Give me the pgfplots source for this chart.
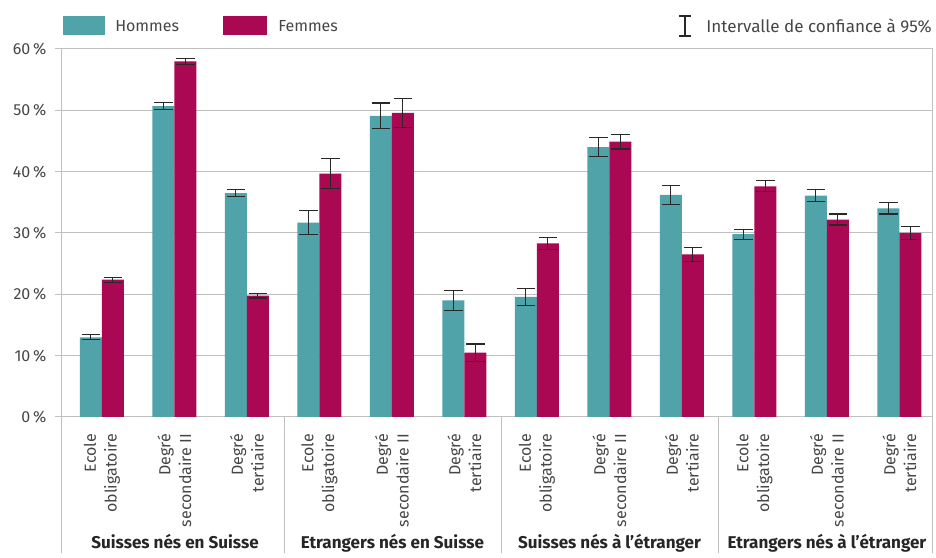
\documentclass[border=0pt]{standalone}
\usepackage{pgfplots}
\pgfplotsset{compat=1.18}
\usepackage{fontspec}
\setmainfont{Fira Sans}
\definecolor{hommes}{RGB}{80,163,168}
\definecolor{femmes}{RGB}{170,8,82}
\definecolor{gridgray}{RGB}{192,192,192}
\definecolor{txt}{RGB}{70,70,70}
\definecolor{errc}{RGB}{40,40,40}

\begin{document}
\begin{tikzpicture}[font=\fontsize{12}{14}\selectfont]
% reference pixel frame: 1 px = 0.75 pt, origin = top left of image
\begin{scope}[shift={(-46.5pt,312.75pt)},x=0.75pt,y=-0.75pt]
\useasboundingbox (0,0) rectangle (936,553);
\end{scope}

\begin{axis}[
  scale only axis, width=652.5pt, height=276pt,
  at={(0,0)}, anchor=south west,
  ybar=0pt, bar width=16.5pt,
  xmin=-0.55, xmax=11.45, ymin=0, ymax=60,
  ytick={0,10,...,60},
  yticklabel={\pgfmathprintnumber{\tick}\,\%},
  /pgf/number format/assume math mode=true,
  ytick pos=left, tick align=outside, major tick length=5.25pt,
  ytick style={gridgray, line width=0.75pt},
  xtick={0,...,11}, xtick style={draw=none},
  xticklabels={{Ecole\\obligatoire},{Degré\\secondaire II},{Degré\\tertiaire},
               {Ecole\\obligatoire},{Degré\\secondaire II},{Degré\\tertiaire},
               {Ecole\\obligatoire},{Degré\\secondaire II},{Degré\\tertiaire},
               {Ecole\\obligatoire},{Degré\\secondaire II},{Degré\\tertiaire}},
  xticklabel style={rotate=90, anchor=east, align=right, inner sep=0pt,
    outer xsep=7.5pt, text=txt, font=\fontsize{12}{15.5}\selectfont},
  yticklabel style={text=txt, xshift=-3pt},
  axis line style={gridgray, line width=0.75pt},
  ymajorgrids, grid style={gridgray, line width=0.75pt},
  error bars/y dir=both, error bars/y explicit,
  error bars/error bar style={errc, line width=0.8pt},
  error bars/error mark options={errc, line width=0.8pt, mark size=7pt, rotate=90},
  clip=false,
]
\addplot[fill=hommes, draw=none] coordinates {
  (0,13.0) +- (0,0.4)
  (1,50.7) +- (0,0.6)
  (2,36.5) +- (0,0.6)
  (3,31.7) +- (0,2.0)
  (4,49.1) +- (0,2.1)
  (5,19.0) +- (0,1.6)
  (6,19.6) +- (0,1.4)
  (7,44.0) +- (0,1.6)
  (8,36.2) +- (0,1.6)
  (9,29.8) +- (0,0.8)
  (10,36.1) +- (0,1.0)
  (11,34.0) +- (0,0.9)
};
\addplot[fill=femmes, draw=none] coordinates {
  (0,22.4) +- (0,0.4)
  (1,58.0) +- (0,0.5)
  (2,19.8) +- (0,0.4)
  (3,39.7) +- (0,2.4)
  (4,49.6) +- (0,2.4)
  (5,10.5) +- (0,1.4)
  (6,28.3) +- (0,1.0)
  (7,44.9) +- (0,1.2)
  (8,26.5) +- (0,1.1)
  (9,37.6) +- (0,0.9)
  (10,32.2) +- (0,0.9)
  (11,30.0) +- (0,1.0)
};
\end{axis}

\begin{scope}[shift={(-46.5pt,312.75pt)},x=0.75pt,y=-0.75pt]
  % group separators below the axis
  \foreach \sx in {62,284,501,718,932}
    \draw[gridgray, line width=0.75pt] (\sx,417) -- (\sx,553);
  % group names
  \foreach \cx/\name in {175/Suisses nés en Suisse,392.5/Etrangers nés en Suisse,
                         609.5/Suisses nés à l'étranger,827/Etrangers nés à l'étranger}
    \node[font=\fontsize{12.8}{14}\selectfont\bfseries, text=black!85, anchor=base]
      at (\cx,549) {\name};
  % legend
  \fill[hommes] (63,16) rectangle (105,35);
  \node[anchor=west, text=txt, inner sep=0pt] at (115,26) {Hommes};
  \fill[femmes] (223,16) rectangle (267,35);
  \node[anchor=west, text=txt, inner sep=0pt] at (278,26) {Femmes};
  \draw[errc, line width=0.8pt] (685,16) -- (685,36)
    (679,16) -- (691,16) (679,36) -- (691,36);
  \node[anchor=east, text=txt, inner sep=0pt, font=\fontsize{12.8}{14}\selectfont]
    at (932,26) {Intervalle de confiance à 95\%};
\end{scope}
\end{tikzpicture}
\end{document}
